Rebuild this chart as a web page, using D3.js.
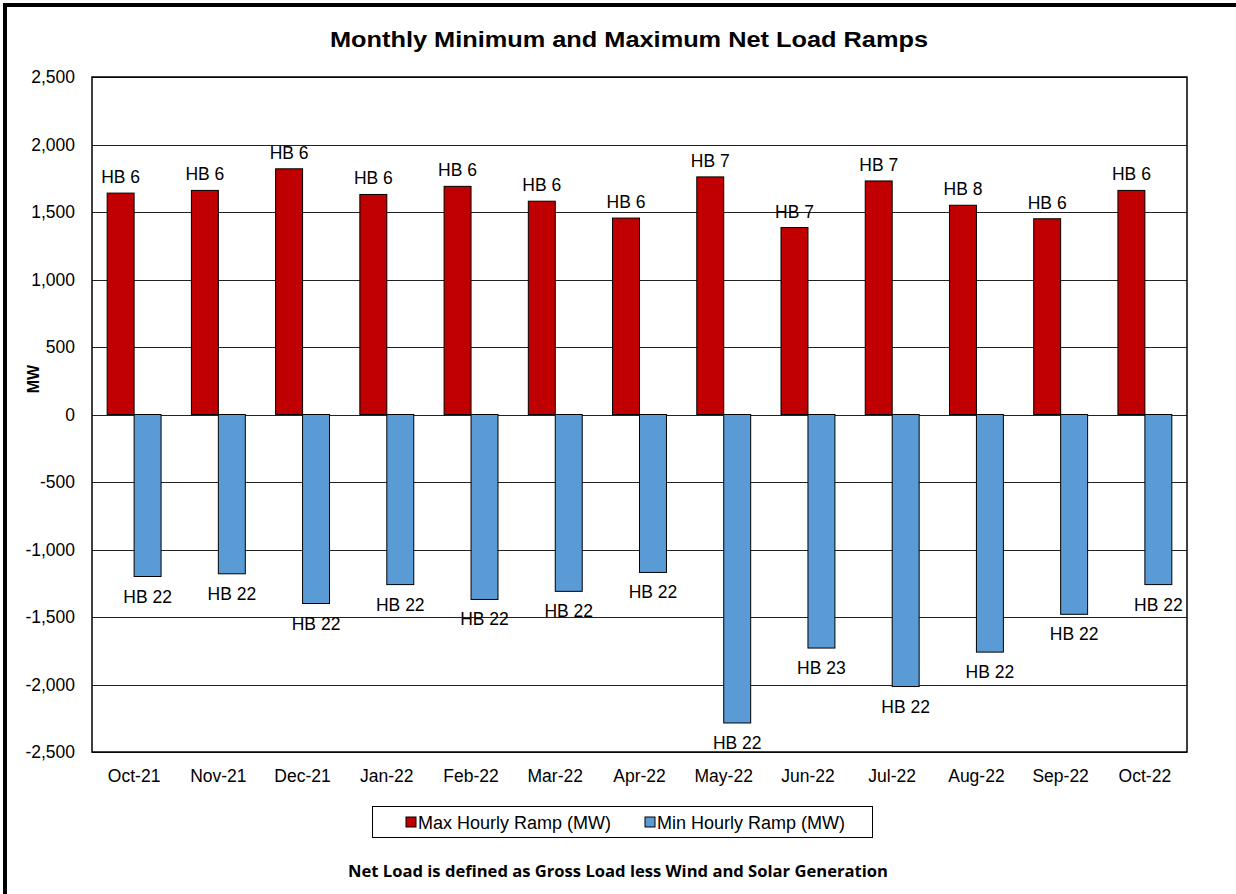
<!DOCTYPE html>
<html>
<head>
<meta charset="utf-8">
<script src="https://cdn.jsdelivr.net/npm/d3@7"></script>
<style>
  body { margin: 0; background: #fff; }
  text { font-family: Arial, "Liberation Sans", sans-serif; fill: #000; }
</style>
</head>
<body>
<svg width="1236" height="894"></svg>
<script>
// data
var months = ["Oct-21", "Nov-21", "Dec-21", "Jan-22", "Feb-22", "Mar-22", "Apr-22",
              "May-22", "Jun-22", "Jul-22", "Aug-22", "Sep-22", "Oct-22"];
var maxRamp = [1640, 1660, 1820, 1630, 1690, 1580, 1455, 1760, 1385, 1730, 1550, 1450, 1660];
var minRamp = [-1200, -1180, -1400, -1260, -1370, -1310, -1170, -2285, -1730, -2015, -1760, -1480, -1260];
var maxHB = ["HB 6", "HB 6", "HB 6", "HB 6", "HB 6", "HB 6", "HB 6", "HB 7", "HB 7", "HB 7", "HB 8", "HB 6", "HB 6"];
var minHB = ["HB 22", "HB 22", "HB 22", "HB 22", "HB 22", "HB 22", "HB 22", "HB 22", "HB 23", "HB 22", "HB 22", "HB 22", "HB 22"];
var yTicks = [-2500, -2000, -1500, -1000, -500, 0, 500, 1000, 1500, 2000, 2500];
var seriesNames = ["Max Hourly Ramp (MW)", "Min Hourly Ramp (MW)"];
var colors = ["#C00000", "#5B9BD5"];

var svg = d3.select("svg");
var fmt = d3.format(",");

// outer frame (only left and top edges show in the crop)
svg.append("line").attr("x1", 5).attr("x2", 5).attr("y1", 3).attr("y2", 894)
  .attr("stroke", "#000").attr("stroke-width", 4);
svg.append("line").attr("x1", 3).attr("x2", 1236).attr("y1", 5).attr("y2", 5)
  .attr("stroke", "#000").attr("stroke-width", 4);

var plotLeft = 92, plotRight = 1187, plotTop = 77, plotBottom = 752;

var x = d3.scaleBand()
  .domain(months)
  .range([plotLeft, plotRight])
  .paddingInner(0.36)
  .paddingOuter(0.18);

var x1 = d3.scaleBand()
  .domain([0, 1])
  .range([0, x.bandwidth()]);

var y = d3.scaleLinear()
  .domain([-2500, 2500])
  .range([plotBottom, plotTop]);

// gridlines
svg.append("g")
  .selectAll("line")
  .data(yTicks)
  .enter()
  .append("line")
  .attr("x1", plotLeft)
  .attr("x2", plotRight)
  .attr("y1", function(d) { return Math.round(y(d)) + 0.5; })
  .attr("y2", function(d) { return Math.round(y(d)) + 0.5; })
  .attr("stroke", "#222")
  .attr("stroke-width", 1.2);

// y tick labels (plain hyphen for negatives, like Excel)
svg.append("g")
  .selectAll("text")
  .data(yTicks)
  .enter()
  .append("text")
  .attr("x", 75)
  .attr("y", function(d) { return y(d); })
  .attr("dy", "0.35em")
  .attr("text-anchor", "end")
  .attr("font-size", "17.5px")
  .text(function(d) { return fmt(d).replace("\u2212", "-"); });

// bars
var rows = months.map(function(m, i) {
  return { month: m, vals: [maxRamp[i], minRamp[i]], labels: [maxHB[i], minHB[i]] };
});

var groups = svg.append("g")
  .selectAll("g")
  .data(rows)
  .enter()
  .append("g")
  .attr("transform", function(d) { return "translate(" + x(d.month) + ",0)"; });

groups.selectAll("rect")
  .data(function(d) { return d.vals; })
  .enter()
  .append("rect")
  .attr("x", function(d, i) { return x1(i); })
  .attr("width", x1.bandwidth())
  .attr("y", function(d) { return y(Math.max(0, d)); })
  .attr("height", function(d) { return Math.abs(y(d) - y(0)); })
  .attr("fill", function(d, i) { return colors[i]; })
  .attr("stroke", "#000")
  .attr("stroke-width", 1);

groups.selectAll("text")
  .data(function(d) { return d.vals.map(function(v, i) { return { v: v, label: d.labels[i] }; }); })
  .enter()
  .append("text")
  .attr("x", function(d, i) { return x1(i) + x1.bandwidth() / 2; })
  .attr("y", function(d) { return d.v > 0 ? y(d.v) - 10 : y(d.v) + 26; })
  .attr("text-anchor", "middle")
  .attr("font-size", "17.5px")
  .text(function(d) { return d.label; });

// plot border
svg.append("rect")
  .attr("x", plotLeft)
  .attr("y", plotTop)
  .attr("width", plotRight - plotLeft)
  .attr("height", plotBottom - plotTop)
  .attr("fill", "none")
  .attr("stroke", "#000")
  .attr("stroke-width", 1.5);

// x labels
svg.append("g")
  .selectAll("text")
  .data(months)
  .enter()
  .append("text")
  .attr("x", function(d) { return x(d) + x.bandwidth() / 2; })
  .attr("y", 782)
  .attr("text-anchor", "middle")
  .attr("font-size", "17.5px")
  .text(function(d) { return d; });

// title
svg.append("text")
  .attr("x", 629)
  .attr("y", 47)
  .attr("text-anchor", "middle")
  .attr("font-size", "22px")
  .attr("font-weight", "bold")
  .attr("textLength", 598)
  .attr("lengthAdjust", "spacingAndGlyphs")
  .text("Monthly Minimum and Maximum Net Load Ramps");

// y axis title
svg.append("text")
  .attr("transform", "translate(39,379) rotate(-90)")
  .attr("text-anchor", "middle")
  .attr("font-size", "16px")
  .attr("font-weight", "bold")
  .text("MW");

// legend
var legend = svg.append("g");
legend.append("rect")
  .attr("x", 372.5).attr("y", 806.5)
  .attr("width", 500).attr("height", 31)
  .attr("fill", "#fff").attr("stroke", "#000").attr("stroke-width", 1);

var legendX = [406, 645];
var items = legend.selectAll("g")
  .data(seriesNames)
  .enter()
  .append("g")
  .attr("transform", function(d, i) { return "translate(" + legendX[i] + ",817)"; });

items.append("rect")
  .attr("width", 10).attr("height", 10)
  .attr("fill", function(d, i) { return colors[i]; })
  .attr("stroke", "#000").attr("stroke-width", 1);

items.append("text")
  .attr("x", 12)
  .attr("y", 11.5)
  .attr("font-size", "18px")
  .text(function(d) { return d; });

// footnote
svg.append("text")
  .attr("x", 618)
  .attr("y", 877)
  .attr("text-anchor", "middle")
  .attr("font-size", "16px")
  .attr("font-weight", "bold")
  .attr("textLength", 540)
  .attr("lengthAdjust", "spacingAndGlyphs")
  .style("font-family", "'Open Sans', 'Noto Sans', sans-serif")
  .text("Net Load is defined as Gross Load less Wind and Solar Generation");
</script>
</body>
</html>
